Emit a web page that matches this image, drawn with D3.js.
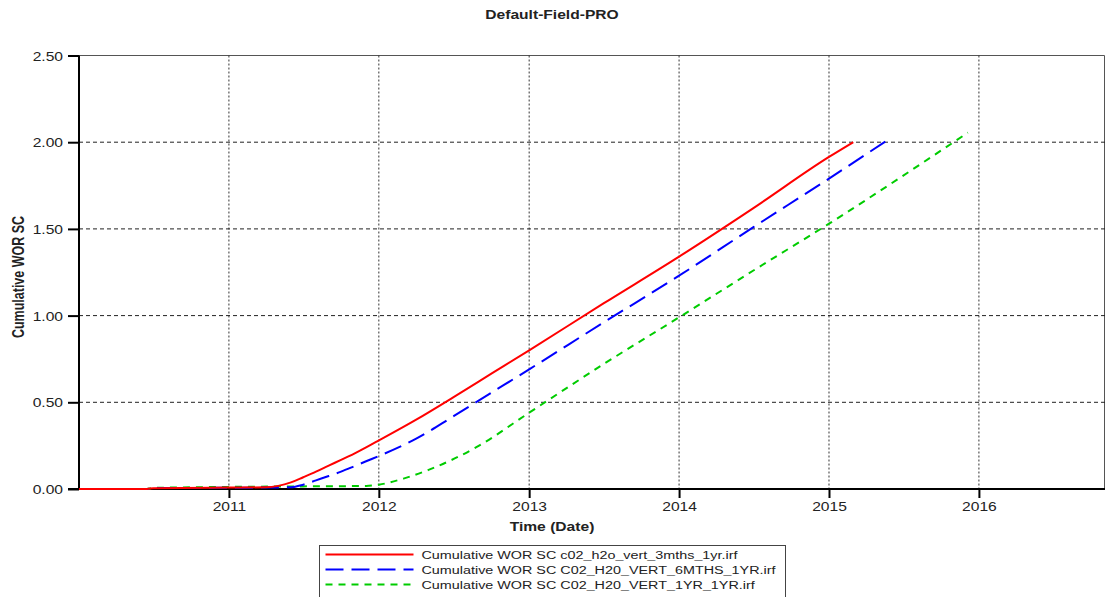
<!DOCTYPE html>
<html>
<head>
<meta charset="utf-8">
<script src="https://cdn.jsdelivr.net/npm/d3@7"></script>
<style>
	body { margin: 0; background: #fff; }
	svg { display: block; }
	text { font-family: Arial, "Liberation Sans", sans-serif; fill: #222; }
</style>
</head>
<body>
<div id="chart"></div>
<script>
/* global d3 */

// series 1 : c02_h2o_vert_3mths_1yr
const redDates = ['2010-01-01', '2010-06-15', '2010-07-01', '2011-01-01', '2011-04-01', '2011-05-01', '2011-06-01', '2011-07-01', '2011-08-01', '2011-09-01', '2011-10-01', '2011-11-01', '2011-12-01', '2012-01-01', '2012-04-01', '2012-07-01', '2012-10-01', '2013-01-01', '2013-07-01', '2014-01-01', '2014-07-01', '2015-01-01', '2015-03-01'];
const redValues = [0, 0, 0.005, 0.008, 0.01, 0.018, 0.038, 0.068, 0.10, 0.135, 0.168, 0.203, 0.24, 0.28, 0.40, 0.53, 0.665, 0.80, 1.07, 1.34, 1.62, 1.915, 2.00];

// series 2 : C02_H20_VERT_6MTHS_1YR
const blueDates = ['2010-01-01', '2010-06-15', '2010-07-01', '2011-01-01', '2011-06-01', '2011-07-01', '2011-08-01', '2011-09-01', '2011-10-01', '2011-11-01', '2011-12-01', '2012-01-01', '2012-04-01', '2012-07-01', '2012-10-01', '2013-01-01', '2013-07-01', '2014-01-01', '2014-07-01', '2015-01-01', '2015-05-22'];
const blueValues = [0, 0, 0.005, 0.007, 0.01, 0.025, 0.05, 0.075, 0.10, 0.13, 0.16, 0.19, 0.29, 0.42, 0.555, 0.69, 0.96, 1.23, 1.51, 1.79, 2.01];

// series 3 : C02_H20_VERT_1YR_1YR
const greenDates = ['2010-01-01', '2010-06-15', '2010-07-01', '2011-01-01', '2011-07-01', '2011-12-01', '2012-01-01', '2012-03-01', '2012-05-01', '2012-09-01', '2013-01-01', '2013-07-01', '2014-01-01', '2014-07-01', '2015-01-01', '2015-12-05'];
const greenValues = [0, 0, 0.006, 0.012, 0.015, 0.018, 0.025, 0.06, 0.11, 0.25, 0.44, 0.72, 0.99, 1.26, 1.53, 2.055];

const seriesNames = [
	'Cumulative WOR SC c02_h2o_vert_3mths_1yr.irf',
	'Cumulative WOR SC C02_H20_VERT_6MTHS_1YR.irf',
	'Cumulative WOR SC C02_H20_VERT_1YR_1YR.irf',
];
const yTicks = [0, 0.5, 1.0, 1.5, 2.0, 2.5];
const xTickYears = [2011, 2012, 2013, 2014, 2015, 2016];

const width = 1106;
const height = 597;
const sx = 1.25; // the picture is a bit wider than tall, stretch the glyphs

const margins = {
	left: 79,
	right: 1,
	top: 55.5,
	bottom: 108,
};

const parse = d3.timeParse('%Y-%m-%d');

const series = [
	{ name: seriesNames[0], dates: redDates, values: redValues, color: '#ff0000', dash: null },
	{ name: seriesNames[1], dates: blueDates, values: blueValues, color: '#0000ff', dash: '18,8' },
	{ name: seriesNames[2], dates: greenDates, values: greenValues, color: '#00cc00', dash: '7,6' },
].map(s => ({
	...s,
	points: s.dates.map((d, i) => ({ date: parse(d), value: s.values[i] })),
}));

const svg = d3.select('#chart').append('svg')
	.attr('width', width)
	.attr('height', height);

const x = d3.scaleTime()
	.domain([parse('2010-01-01'), parse('2016-11-03')])
	.range([margins.left, width - margins.right]);

const y = d3.scaleLinear()
	.domain([0, 2.5])
	.range([height - margins.bottom, margins.top]);

const plotBottom = y(0);
const plotTop = y(2.5);

// frame (top and right)
svg.append('path')
	.attr('d', `M${x.range()[0]},${plotTop}H${x.range()[1] - 0.5}V${plotBottom}`)
	.attr('fill', 'none')
	.attr('stroke', '#555')
	.attr('stroke-width', 1);

// grid
const xTickDates = xTickYears.map(yr => new Date(yr, 0, 1));

svg.append('g')
	.selectAll('line')
	.data(xTickDates)
	.enter().append('line')
	.attr('x1', d => x(d))
	.attr('x2', d => x(d))
	.attr('y1', plotTop)
	.attr('y2', plotBottom)
	.attr('stroke', '#333')
	.attr('stroke-dasharray', '2,2');

svg.append('g')
	.selectAll('line')
	.data(yTicks.filter(v => v > 0 && v < 2.5))
	.enter().append('line')
	.attr('x1', x.range()[0])
	.attr('x2', x.range()[1])
	.attr('y1', d => y(d))
	.attr('y2', d => y(d))
	.attr('stroke', '#222')
	.attr('stroke-dasharray', '4,3');

// axes
const yAxis = d3.axisLeft(y)
	.tickValues(yTicks)
	.tickFormat(d3.format('.2f'))
	.tickSize(11)
	.tickPadding(5);

const yAxisG = svg.append('g')
	.attr('transform', `translate(${margins.left},0)`)
	.call(yAxis);

const xAxis = d3.axisBottom(x)
	.tickValues(xTickDates)
	.tickFormat(d3.timeFormat('%Y'))
	.tickSize(9)
	.tickPadding(6);

const xAxisG = svg.append('g')
	.attr('transform', `translate(0,${plotBottom})`)
	.call(xAxis);

[yAxisG, xAxisG].forEach(g => {
	g.select('.domain').remove();
	g.selectAll('.tick line')
		.attr('stroke', '#000')
		.attr('stroke-width', 2);
	g.selectAll('.tick text')
		.attr('font-size', '12.5px')
		.attr('font-family', 'Arial, "Liberation Sans", sans-serif')
		.attr('fill', '#222');
});

yAxisG.selectAll('.tick text')
	.attr('x', -16 / sx)
	.attr('dy', '0.36em')
	.attr('transform', `scale(${sx},1)`);

xAxisG.selectAll('.tick text')
	.attr('y', 13)
	.attr('dy', '0.71em')
	.attr('transform', `scale(${sx},1)`);

// axis lines
svg.append('line')
	.attr('x1', margins.left)
	.attr('x2', margins.left)
	.attr('y1', plotTop)
	.attr('y2', plotBottom + 1)
	.attr('stroke', '#000')
	.attr('stroke-width', 2);

svg.append('line')
	.attr('x1', margins.left - 11)
	.attr('x2', x.range()[1])
	.attr('y1', plotBottom)
	.attr('y2', plotBottom)
	.attr('stroke', '#000')
	.attr('stroke-width', 2);

// curves
const line = d3.line()
	.x(d => x(d.date))
	.y(d => y(d.value))
	.curve(d3.curveMonotoneX);

svg.append('g')
	.selectAll('path')
	.data(series.slice().reverse())
	.enter().append('path')
	.attr('d', d => line(d.points))
	.attr('fill', 'none')
	.attr('stroke', d => d.color)
	.attr('stroke-width', 2)
	.attr('stroke-dasharray', d => d.dash);

// titles
svg.append('text')
	.attr('transform', `translate(552,19) scale(${sx},1)`)
	.attr('text-anchor', 'middle')
	.attr('font-size', '12.5px')
	.attr('font-weight', 'bold')
	.text('Default-Field-PRO');

svg.append('text')
	.attr('transform', `translate(552,531) scale(${sx},1)`)
	.attr('text-anchor', 'middle')
	.attr('font-size', '12.5px')
	.attr('font-weight', 'bold')
	.text('Time (Date)');

svg.append('text')
	.attr('transform', `translate(24,277) scale(${sx},1) rotate(-90)`)
	.attr('text-anchor', 'middle')
	.attr('font-size', '12.5px')
	.attr('font-weight', 'bold')
	.text('Cumulative WOR SC');

// legend
const legend = svg.append('g')
	.attr('transform', 'translate(319.5,545.5)');

legend.append('rect')
	.attr('width', 466)
	.attr('height', 60)
	.attr('fill', '#fff')
	.attr('stroke', '#444')
	.attr('stroke-width', 1);

const legendRow = legend.selectAll('g.legend-row')
	.data(series)
	.enter().append('g')
	.attr('class', 'legend-row')
	.attr('transform', (d, i) => `translate(0,${9 + i * 15})`);

legendRow.append('line')
	.attr('x1', 6)
	.attr('x2', 94)
	.attr('stroke', d => d.color)
	.attr('stroke-width', 2)
	.attr('stroke-dasharray', d => d.dash);

legendRow.append('text')
	.attr('transform', `translate(102,0) scale(${sx},1)`)
	.attr('dy', '0.36em')
	.attr('font-size', '11.5px')
	.text(d => d.name);
</script>
</body>
</html>
